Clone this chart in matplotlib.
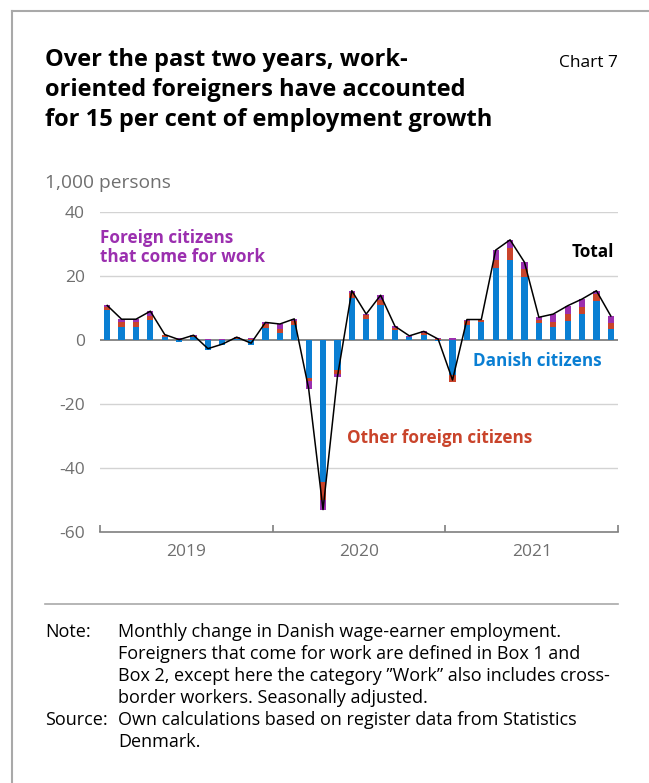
import matplotlib
matplotlib.use("Agg")
import matplotlib.pyplot as plt
from matplotlib.lines import Line2D
import numpy as np

# Monthly change in wage-earner employment, 1,000 persons, Jan 2019 - Dec 2021
danish = [9.4, 4.2, 4.2, 6.2, 1.0, -0.6, 0.8, -3.0, -1.6, 0.3, -1.7, 3.9,
          2.1, 4.7, -12.0, -44.5, -9.4, 13.0, 6.5, 10.9, 3.1, 0.8, 1.7, -0.2,
          -11.0, 4.7, 5.5, 22.4, 25.0, 19.6, 5.2, 4.2, 6.0, 8.2, 12.3, 3.3]
other_foreign = [1.0, 1.4, 1.4, 1.3, 0.5, 0.2, 0.4, 0.1, 0.1, 0.2, 0.3, 1.0,
                 1.3, 1.1, -0.9, -5.5, -1.3, 1.6, 1.2, 1.6, 0.8, 0.2, 0.6, 0.4,
                 -2.0, 1.1, 0.7, 2.6, 3.6, 2.5, 1.0, 1.4, 2.0, 2.2, 2.0, 2.1]
work_foreign = [0.4, 0.9, 0.9, 1.5, 0.2, 0.5, 0.3, 0.2, 0.2, 0.4, 0.4, 0.6,
                1.6, 0.8, -2.3, -3.0, -0.8, 0.8, 0.4, 1.5, 0.4, 0.3, 0.4, 0.1,
                0.5, 0.6, 0.2, 3.1, 2.7, 2.2, 0.9, 2.5, 2.7, 2.4, 1.1, 2.1]
years = ["2019", "2020", "2021"]
y_ticks = [-60, -40, -20, 0, 20, 40]

BLUE = "#0a7fd3"
RED = "#c9442b"
PURPLE = "#9b2faf"
GREY_TXT = "#6f6f6f"

plt.rcParams["font.family"] = ["Open Sans", "DejaVu Sans"]

fig = plt.figure(figsize=(6.49, 7.83), dpi=100)
W, H = 649, 783

def fx(px):
    return px / W

def fy(py):
    return 1 - py / H

# outer frame
fig.add_artist(Line2D([fx(12), fx(12)], [fy(11), 0], color="#a9a9a9", lw=1.5))
fig.add_artist(Line2D([fx(12), 1], [fy(11), fy(11)], color="#a9a9a9", lw=1.5))

# title block
title_lines = ["Over the past two years, work-",
               "oriented foreigners have accounted",
               "for 15 per cent of employment growth"]
for i, line in enumerate(title_lines):
    fig.text(fx(45), fy(66 + 30 * i), line, fontsize=17, fontweight="bold",
             ha="left", va="baseline")
fig.text(fx(618), fy(67), "Chart 7", fontsize=12.5, ha="right", va="baseline")
fig.text(fx(45), fy(188), "1,000 persons", fontsize=13.8, color=GREY_TXT, ha="left", va="baseline")

ax = fig.add_axes([fx(100), fy(532), fx(618) - fx(100), (532 - 212) / H])

n = len(danish)
x = np.arange(n) + 0.5
d = np.array(danish)
o = np.array(other_foreign)
w = np.array(work_foreign)
total = d + o + w

# stack positive and negative parts separately
pos_base = np.zeros(n)
neg_base = np.zeros(n)
bw = 0.43
for vals, col in [(d, BLUE), (o, RED), (w, PURPLE)]:
    base = np.where(vals >= 0, pos_base, neg_base)
    ax.bar(x, vals, bottom=base, width=bw, color=col, linewidth=0, zorder=3)
    pos_base = pos_base + np.where(vals >= 0, vals, 0)
    neg_base = neg_base + np.where(vals < 0, vals, 0)

ax.plot(x, total, color="black", lw=1.1, zorder=4)

ax.set_xlim(0, n)
ax.set_ylim(-60, 40)
ax.set_yticks(y_ticks)
ax.set_yticklabels([str(v) for v in y_ticks])
for v in y_ticks[1:]:
    if v == 0:
        ax.axhline(v, color="#7f7f7f", lw=1.3, zorder=2)
    else:
        ax.axhline(v, color="#d3d3d3", lw=1.0, zorder=1)

for s in ["top", "right", "left"]:
    ax.spines[s].set_visible(False)
ax.spines["bottom"].set_color("#7f7f7f")
ax.spines["bottom"].set_linewidth(1.2)

ax.set_xticks([0, 12, 24, 36])
ax.set_xticklabels([])
ax.tick_params(axis="x", which="major", direction="in", length=5, color="#7f7f7f", width=1.2)
ax.set_xticks([6, 18, 30], minor=True)
ax.set_xticklabels(years, minor=True)
ax.tick_params(axis="x", which="minor", length=0, labelsize=12.5, labelcolor=GREY_TXT, pad=9)
ax.tick_params(axis="y", length=0, labelsize=12.5, labelcolor=GREY_TXT, pad=11)

# series labels
lab_fs = 12.3
ax.text(0.0, 0.89, "Foreign citizens\nthat come for work", transform=ax.transAxes, color=PURPLE,
        fontsize=lab_fs, fontweight="bold", ha="left", va="center", linespacing=1.05)
ax.text(0.992, 0.875, "Total", transform=ax.transAxes, color="black",
        fontsize=lab_fs, fontweight="bold", ha="right", va="center")
ax.text(0.968, 0.534, "Danish citizens", transform=ax.transAxes, color=BLUE,
        fontsize=lab_fs, fontweight="bold", ha="right", va="center")
ax.text(0.476, 0.294, "Other foreign citizens", transform=ax.transAxes, color=RED,
        fontsize=lab_fs, fontweight="bold", ha="left", va="center")

# separator and notes
fig.add_artist(Line2D([fx(45), fx(618)], [fy(604), fy(604)], color="#a9a9a9", lw=1.2))
note_lines = [
    ("Note:", "Monthly change in Danish wage-earner employment."),
    ("", "Foreigners that come for work are defined in Box 1 and"),
    ("", "Box 2, except here the category \u201dWork\u201d also includes cross-"),
    ("", "border workers. Seasonally adjusted."),
    ("Source:", "Own calculations based on register data from Statistics"),
    ("", "Denmark."),
]
for i, (lab, txt) in enumerate(note_lines):
    yy = fy(637 + 22 * i)
    if lab:
        fig.text(fx(45), yy, lab, fontsize=13, ha="left", va="baseline")
    fig.text(fx(118), yy, txt, fontsize=13, ha="left", va="baseline")

fig.savefig("out.png", dpi=100, facecolor="white")
